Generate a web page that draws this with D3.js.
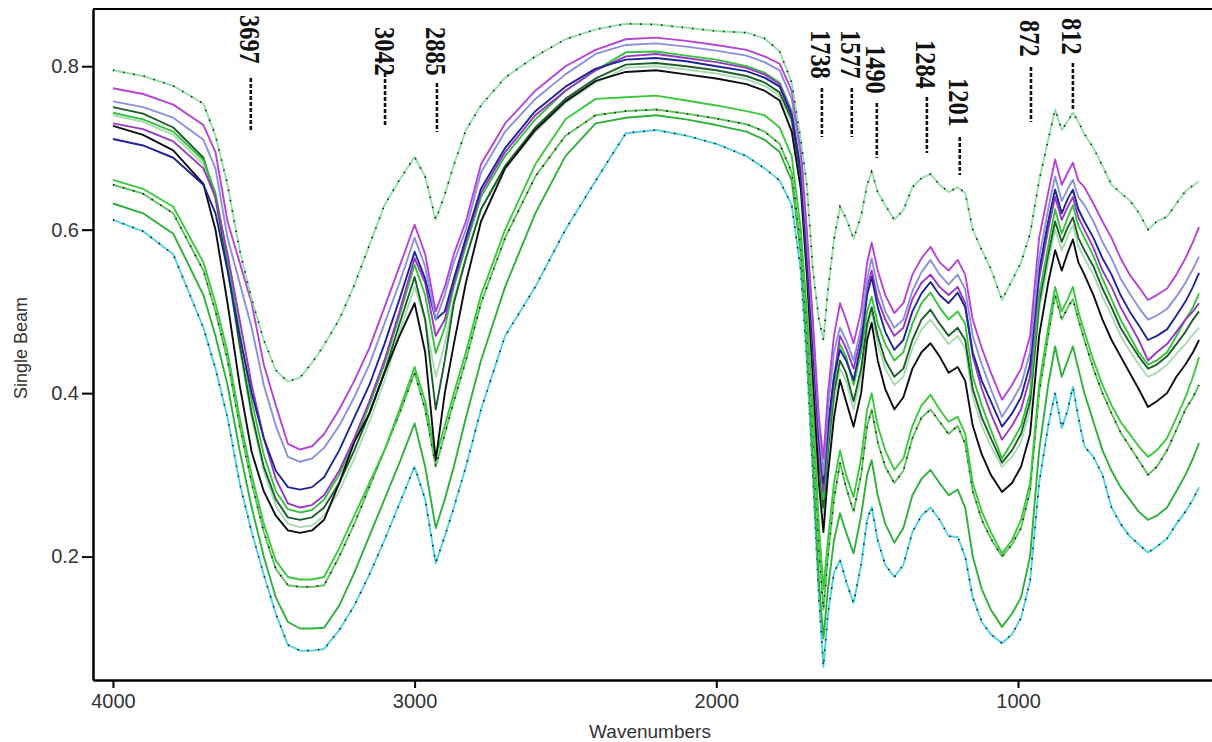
<!DOCTYPE html>
<html>
<head>
<meta charset="utf-8">
<script src="https://cdn.jsdelivr.net/npm/d3@7"></script>
<style>
  html, body { margin: 0; padding: 0; background: #fff; }
  svg { display: block; }
</style>
</head>
<body>
<svg id="chart" width="1212" height="742"></svg>
<script>
// Wavenumber grid (cm-1) shared by every spectrum
const wavenumbers = [
  4000, 3900, 3800, 3700, 3660, 3620, 3580, 3540, 3500, 3460,
  3420, 3380, 3340, 3300, 3250, 3200, 3150, 3100, 3050, 3000,
  2965, 2930, 2900, 2870, 2830, 2780, 2700, 2600, 2500, 2400,
  2300, 2200, 2100, 2000, 1900, 1840, 1790, 1750, 1720, 1700,
  1680, 1660, 1645, 1630, 1610, 1590, 1570, 1545, 1520, 1500,
  1485, 1465, 1440, 1410, 1380, 1350, 1320, 1290, 1260, 1230,
  1200, 1175, 1150, 1120, 1090, 1053, 1020, 990, 960, 930,
  900, 877, 855, 835, 818, 800, 780, 750, 720, 690,
  660, 630, 600, 569, 540, 506, 475, 445, 420, 400
];

// Single-beam intensities, one array per sample
const spectrumMint = [
  .795,.788,.776,.754,.715,.655,.575,.515,.465,.428,
  .414,.419,.437,.459,.490,.532,.581,.630,.661,.689,
  .665,.612,.643,.679,.722,.752,.786,.812,.833,.845,
  .852,.851,.847,.843,.841,.834,.818,.780,.710,.655,
  .551,.490,.465,.526,.588,.628,.614,.589,.617,.655,
  .671,.646,.630,.612,.624,.652,.663,.668,.655,.646,
  .652,.645,.600,.575,.552,.514,.538,.560,.595,.660,
  .710,.747,.722,.733,.743,.732,.717,.700,.678,.655,
  .645,.636,.621,.600,.610,.616,.632,.647,.654,.659
];
const spectrumPurple = [
  .773,.766,.753,.728,.695,.610,.560,.510,.435,.385,
  .338,.331,.335,.350,.380,.415,.455,.505,.555,.606,
  .570,.500,.530,.570,.610,.680,.730,.770,.800,.820,
  .833,.835,.831,.826,.820,.812,.803,.770,.700,.600,
  .490,.370,.320,.400,.470,.510,.490,.461,.500,.560,
  .584,.550,.520,.498,.510,.545,.565,.579,.560,.550,
  .563,.545,.490,.455,.425,.392,.410,.430,.470,.590,
  .645,.686,.655,.670,.682,.660,.652,.632,.610,.590,
  .565,.545,.530,.514,.520,.528,.545,.565,.585,.603
];
const spectrumLavender = [
  .757,.750,.737,.710,.675,.590,.535,.480,.410,.360,
  .322,.316,.320,.333,.360,.395,.435,.485,.535,.590,
  .555,.490,.520,.560,.600,.670,.720,.760,.790,.815,
  .826,.828,.824,.819,.813,.805,.795,.760,.690,.590,
  .480,.360,.300,.380,.450,.480,.465,.440,.480,.540,
  .565,.530,.500,.480,.490,.525,.548,.563,.545,.533,
  .545,.527,.470,.435,.405,.371,.390,.410,.450,.565,
  .625,.665,.635,.650,.661,.640,.630,.610,.585,.565,
  .540,.522,.505,.490,.495,.503,.518,.535,.552,.567
];
const spectrumNavy = [
  .711,.703,.688,.655,.620,.550,.470,.400,.345,.305,
  .285,.282,.285,.297,.330,.370,.410,.460,.515,.573,
  .540,.490,.500,.540,.590,.650,.700,.745,.775,.797,
  .808,.810,.806,.800,.794,.786,.775,.740,.670,.570,
  .460,.350,.290,.360,.420,.453,.440,.416,.460,.520,
  .542,.505,.475,.453,.465,.500,.522,.536,.520,.510,
  .523,.505,.450,.415,.390,.359,.375,.395,.435,.550,
  .610,.649,.620,.638,.649,.625,.610,.590,.565,.545,
  .520,.500,.483,.465,.470,.478,.495,.512,.530,.547
];
const spectrumViolet = [
  .730,.723,.708,.675,.640,.570,.490,.410,.345,.295,
  .265,.260,.263,.275,.305,.345,.390,.440,.500,.565,
  .535,.470,.490,.535,.585,.645,.695,.740,.770,.795,
  .812,.815,.810,.805,.798,.790,.778,.742,.670,.565,
  .450,.330,.280,.350,.420,.470,.455,.430,.470,.530,
  .550,.515,.490,.470,.480,.515,.535,.545,.530,.520,
  .530,.510,.445,.405,.375,.343,.360,.380,.420,.540,
  .600,.640,.612,.628,.640,.615,.600,.578,.550,.530,
  .505,.485,.465,.440,.450,.460,.475,.490,.500,.510
];
const spectrumGreen = [
  .743,.735,.720,.685,.645,.565,.475,.390,.325,.280,
  .258,.254,.257,.270,.300,.340,.385,.435,.495,.557,
  .520,.449,.480,.530,.580,.640,.690,.735,.770,.795,
  .817,.818,.813,.808,.800,.792,.780,.745,.675,.570,
  .450,.330,.270,.340,.410,.460,.445,.410,.450,.500,
  .518,.485,.460,.440,.450,.485,.510,.523,.505,.490,
  .500,.485,.420,.385,.355,.320,.340,.360,.400,.520,
  .580,.625,.595,.615,.630,.605,.590,.568,.540,.515,
  .490,.470,.450,.435,.440,.450,.470,.490,.505,.522
];
const spectrumDarkGreen = [
  .750,.742,.725,.688,.640,.555,.460,.375,.310,.270,
  .248,.245,.248,.260,.290,.330,.375,.425,.485,.542,
  .490,.380,.440,.510,.565,.625,.678,.725,.760,.785,
  .802,.804,.800,.795,.788,.780,.768,.735,.665,.560,
  .440,.320,.260,.330,.400,.440,.425,.390,.430,.485,
  .505,.470,.440,.420,.430,.465,.490,.502,.485,.470,
  .480,.465,.405,.370,.345,.315,.330,.350,.390,.510,
  .570,.610,.585,.603,.615,.590,.575,.555,.528,.505,
  .480,.462,.445,.430,.435,.445,.460,.475,.490,.500
];
const spectrumPaleGreen = [
  .740,.732,.716,.680,.635,.550,.455,.370,.305,.262,
  .240,.236,.238,.250,.280,.320,.365,.415,.475,.530,
  .490,.420,.460,.515,.565,.625,.675,.720,.755,.780,
  .798,.800,.796,.791,.784,.776,.764,.730,.660,.555,
  .435,.310,.250,.320,.390,.430,.415,.380,.420,.478,
  .500,.460,.430,.410,.420,.455,.478,.490,.475,.460,
  .470,.455,.395,.360,.335,.310,.322,.340,.380,.500,
  .560,.600,.575,.592,.605,.580,.565,.545,.518,.495,
  .470,.452,.435,.420,.425,.435,.448,.460,.472,.480
];
const spectrumBlack = [
  .727,.716,.697,.656,.600,.510,.410,.328,.280,.250,
  .232,.229,.232,.245,.290,.340,.375,.425,.470,.510,
  .450,.318,.400,.460,.535,.610,.675,.722,.757,.782,
  .793,.795,.790,.785,.778,.770,.758,.720,.650,.545,
  .420,.290,.230,.300,.370,.416,.390,.359,.400,.465,
  .486,.440,.405,.380,.395,.430,.450,.461,.445,.425,
  .432,.415,.360,.325,.300,.279,.290,.310,.350,.470,
  .535,.575,.550,.572,.588,.560,.545,.520,.490,.465,
  .445,.425,.405,.383,.390,.400,.420,.435,.450,.465
];
const spectrumGreenA = [
  .661,.650,.628,.560,.510,.450,.370,.300,.240,.195,
  .175,.172,.172,.175,.210,.250,.290,.330,.380,.432,
  .390,.322,.360,.400,.450,.520,.600,.680,.735,.760,
  .762,.764,.758,.752,.745,.740,.725,.690,.600,.500,
  .380,.240,.160,.220,.290,.330,.300,.273,.320,.380,
  .400,.360,.330,.306,.320,.360,.385,.398,.380,.365,
  .371,.350,.290,.255,.230,.204,.220,.245,.290,.410,
  .480,.530,.500,.515,.530,.500,.475,.440,.410,.385,
  .365,.350,.335,.322,.330,.345,.370,.395,.420,.444
];
const spectrumGreenB = [
  .655,.644,.620,.550,.500,.440,.360,.290,.230,.185,
  .165,.163,.163,.165,.200,.240,.285,.330,.375,.425,
  .380,.310,.350,.390,.440,.510,.590,.665,.715,.740,
  .745,.747,.742,.736,.729,.720,.705,.670,.580,.480,
  .360,.210,.135,.200,.270,.315,.285,.255,.300,.360,
  .380,.340,.310,.290,.305,.345,.370,.380,.365,.350,
  .360,.338,.280,.245,.222,.200,.215,.235,.280,.400,
  .470,.520,.490,.505,.515,.490,.465,.430,.400,.375,
  .352,.335,.318,.300,.310,.330,.355,.380,.395,.410
];
const spectrumGreenC = [
  .632,.620,.595,.520,.470,.410,.330,.260,.200,.150,
  .120,.112,.112,.113,.140,.180,.225,.270,.315,.363,
  .310,.235,.270,.310,.370,.440,.530,.620,.690,.730,
  .737,.740,.735,.728,.720,.710,.695,.660,.570,.460,
  .320,.170,.100,.160,.220,.253,.230,.204,.250,.300,
  .318,.275,.240,.217,.235,.275,.295,.306,.290,.275,
  .282,.260,.200,.160,.135,.114,.130,.150,.200,.330,
  .410,.457,.420,.440,.457,.430,.400,.365,.330,.305,
  .285,.270,.255,.245,.250,.260,.280,.300,.320,.339
];
const spectrumCyan = [
  .612,.598,.570,.480,.430,.370,.290,.230,.178,.130,
  .092,.085,.085,.087,.110,.140,.178,.220,.265,.310,
  .270,.192,.225,.260,.310,.380,.470,.530,.600,.660,
  .718,.722,.715,.705,.690,.675,.660,.630,.550,.440,
  .300,.150,.065,.130,.180,.196,.170,.143,.190,.245,
  .261,.220,.190,.175,.190,.230,.250,.260,.245,.225,
  .224,.200,.150,.120,.105,.094,.105,.125,.170,.290,
  .360,.400,.357,.380,.408,.370,.335,.322,.300,.260,
  .240,.225,.215,.205,.212,.222,.240,.255,.270,.285
];

// Axis ticks
const xTickValues = [4000, 3000, 2000, 1000];
const yTickValues = [0.2, 0.4, 0.6, 0.8];

// Band assignments written above the spectra, and the wavenumber each one sits over
const bandLabels = ["3697", "3042", "2885", "1738", "1577", "1490", "1284", "1201", "872", "812"];
const bandLabelAt = [3543, 3098, 2926, 1650, 1551, 1468, 1302, 1193, 957, 818];

// ---------------------------------------------------------------- drawing
const svg = d3.select("#chart");
const plotLeft = 93, plotRight = 1212, plotTop = 9, plotBottom = 680;

const x = d3.scaleLinear().domain([4066, 357]).range([plotLeft, plotRight]);
const y = d3.scaleLinear().domain([0.049, 0.870]).range([plotBottom, plotTop]);

svg.append("defs").append("clipPath").attr("id", "plotClip")
  .append("rect").attr("x", plotLeft).attr("y", plotTop)
  .attr("width", plotRight - plotLeft).attr("height", plotBottom - plotTop);

// drawing order: lower spectra first, the upper band on top
const series = [
  { values: spectrumCyan,      color: "#4fd3e3", dots: true },
  { values: spectrumGreenC,    color: "#2eb03a", dots: false },
  { values: spectrumGreenB,    color: "#5cc25c", dots: true },
  { values: spectrumGreenA,    color: "#3cc83e", dots: false },
  { values: spectrumPaleGreen, color: "#a6dcb0", dots: false },
  { values: spectrumDarkGreen, color: "#1d5e2a", dots: false },
  { values: spectrumGreen,     color: "#36c23d", dots: false },
  { values: spectrumBlack,     color: "#0d0d14", dots: false },
  { values: spectrumViolet,    color: "#9838c4", dots: false },
  { values: spectrumNavy,      color: "#1f2596", dots: false },
  { values: spectrumLavender,  color: "#8a90dc", dots: false },
  { values: spectrumPurple,    color: "#b444d6", dots: false },
  { values: spectrumMint,      color: "#92e2a6", dots: true }
];

const line = d3.line()
  .x((d, i) => x(wavenumbers[i]))
  .y(d => y(d));

const plot = svg.append("g").attr("clip-path", "url(#plotClip)");

series.forEach(s => {
  plot.append("path")
    .attr("d", line(s.values))
    .attr("fill", "none")
    .attr("stroke", s.color)
    .attr("stroke-width", 1.9)
    .attr("stroke-linejoin", "round");
  if (s.dots) {
    plot.append("path")
      .attr("d", line(s.values))
      .attr("fill", "none")
      .attr("stroke", "#111")
      .attr("stroke-width", 1.6)
      .attr("stroke-dasharray", "1.4 9");
  }
});

// band annotations: rotated serif numbers with a dashed leader beneath
const bandLayout = [
  { y0: 15, d0: 78,  d1: 130 },
  { y0: 27, d0: 73,  d1: 127 },
  { y0: 27, d0: 83,  d1: 132 },
  { y0: 30, d0: 88,  d1: 137 },
  { y0: 30, d0: 88,  d1: 137 },
  { y0: 45, d0: 103, d1: 158 },
  { y0: 40, d0: 97,  d1: 153 },
  { y0: 78, d0: 137, d1: 175 },
  { y0: 20, d0: 67,  d1: 122 },
  { y0: 18, d0: 63,  d1: 110 }
];
const ann = svg.append("g");
bandLabels.forEach((lab, i) => {
  const cx = x(bandLabelAt[i]);
  const L = bandLayout[i];
  ann.append("text")
    .attr("x", cx).attr("y", L.y0)
    .attr("transform", `rotate(90, ${cx}, ${L.y0})`)
    .attr("text-anchor", "start")
    .attr("dominant-baseline", "central")
    .attr("font-family", "'Liberation Serif', 'Times New Roman', serif")
    .attr("font-weight", "bold")
    .attr("font-size", 30)
    .attr("textLength", lab.length * 12.2)
    .attr("lengthAdjust", "spacingAndGlyphs")
    .attr("fill", "#111")
    .text(lab);
  ann.append("line")
    .attr("x1", cx).attr("x2", cx)
    .attr("y1", L.d0).attr("y2", L.d1)
    .attr("stroke", "#111")
    .attr("stroke-width", 2.6)
    .attr("stroke-dasharray", "4 2");
});

// axes
const axisFont = "'Liberation Sans', Arial, sans-serif";

const yAxis = svg.append("g")
  .attr("transform", `translate(${plotLeft},0)`)
  .call(d3.axisLeft(y).tickValues(yTickValues).tickSize(11).tickSizeOuter(0)
        .tickPadding(3).tickFormat(d3.format(".1f")));
const xAxis = svg.append("g")
  .attr("transform", `translate(0,${plotBottom})`)
  .call(d3.axisBottom(x).tickValues(xTickValues).tickSize(8).tickSizeOuter(0)
        .tickPadding(6).tickFormat(d3.format("d")));

[yAxis, xAxis].forEach(g => {
  g.select(".domain").attr("stroke", "#000").attr("stroke-width", 2.5);
  g.selectAll(".tick line").attr("stroke", "#000").attr("stroke-width", 2);
  g.selectAll(".tick text")
    .attr("font-family", axisFont)
    .attr("font-size", 20)
    .attr("fill", "#333");
});

// upper frame edge
svg.append("line")
  .attr("x1", plotLeft).attr("x2", plotRight)
  .attr("y1", plotTop).attr("y2", plotTop)
  .attr("stroke", "#000").attr("stroke-width", 2.2);

// axis titles
svg.append("text")
  .attr("x", 650).attr("y", 738)
  .attr("text-anchor", "middle")
  .attr("font-family", axisFont)
  .attr("font-size", 19)
  .attr("fill", "#333")
  .text("Wavenumbers");

svg.append("text")
  .attr("transform", "translate(27,348) rotate(-90)")
  .attr("text-anchor", "middle")
  .attr("font-family", axisFont)
  .attr("font-size", 18)
  .attr("fill", "#333")
  .text("Single Beam");
</script>
</body>
</html>
